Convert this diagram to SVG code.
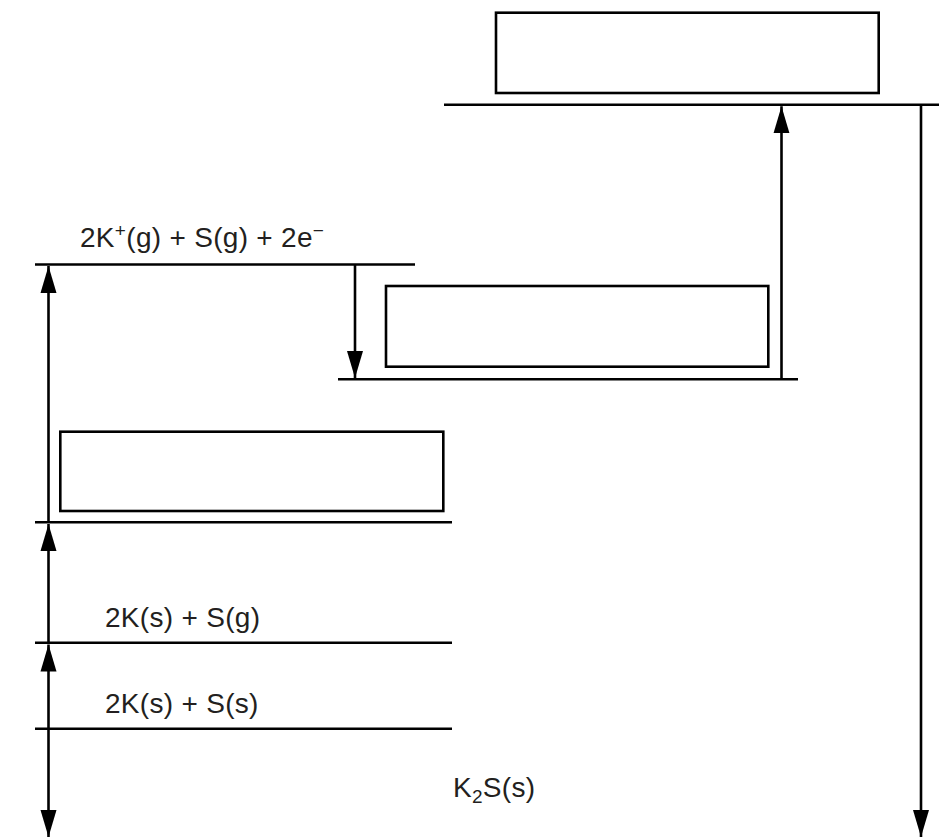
<svg xmlns="http://www.w3.org/2000/svg" width="939" height="838" viewBox="0 0 939 838">
<style>
.lvl{stroke:#000;stroke-width:2.6;fill:none}
.box{stroke:#000;stroke-width:2.6;fill:#fff}
.arr{stroke:#000;stroke-width:2.6;fill:none}
.t{font-family:"Liberation Sans",Arial,Helvetica,sans-serif;font-size:28px;fill:#231f20;letter-spacing:0.3px}
</style>
<defs>
<marker id="ah" markerUnits="userSpaceOnUse" markerWidth="28" markerHeight="17" viewBox="0 0 28 17" refX="27" refY="8.5" orient="auto">
<path d="M0,0.5 L27,8.5 L0,16.5 z" fill="#000"/>
</marker>
</defs>
<rect width="939" height="838" fill="#fff"/>
<g id="levels">
<g id="level-ions"><line class="lvl" x1="35" y1="264.5" x2="415" y2="264.5"/><text class="t" x="80" y="247">2K<tspan font-size="19" dy="-10">+</tspan><tspan dy="10">(g) + S(g) + 2e</tspan><tspan font-size="19" dy="-10">−</tspan></text></g>
<g id="level-mid"><line class="lvl" x1="338" y1="379.3" x2="798" y2="379.3"/></g>
<g id="level-top"><line class="lvl" x1="444" y1="104.7" x2="939" y2="104.7"/></g>
<g id="level-low"><line class="lvl" x1="35" y1="522.3" x2="452" y2="522.3"/></g>
<g id="level-ksg"><line class="lvl" x1="35" y1="642.7" x2="452" y2="642.7"/><text class="t" x="105" y="627">2K(s) + S(g)</text></g>
<g id="level-kss"><line class="lvl" x1="35" y1="728.7" x2="452" y2="728.7"/><text class="t" x="105" y="713">2K(s) + S(s)</text></g>
<g id="level-k2s"><text class="t" x="453" y="797">K<tspan font-size="19" dy="6">2</tspan><tspan dy="-6">S(s)</tspan></text></g>
</g>
<g id="box-top"><rect class="box" x="496" y="12.7" width="382.7" height="80.3"/></g>
<g id="box-mid"><rect class="box" x="386" y="286" width="382.3" height="80.7"/></g>
<g id="box-low"><rect class="box" x="60.3" y="431.7" width="383" height="79.3"/></g>
<g id="connectors">
<line class="arr" x1="48.5" y1="522.3" x2="48.5" y2="266" marker-end="url(#ah)"/>
<line class="arr" x1="48.5" y1="642.7" x2="48.5" y2="524" marker-end="url(#ah)"/>
<line class="arr" x1="48.5" y1="728.7" x2="48.5" y2="644.5" marker-end="url(#ah)"/>
<line class="arr" x1="48.5" y1="728.7" x2="48.5" y2="837" marker-end="url(#ah)"/>
<line class="arr" x1="355" y1="264.5" x2="355" y2="378" marker-end="url(#ah)"/>
<line class="arr" x1="781.5" y1="379.3" x2="781.5" y2="106.3" marker-end="url(#ah)"/>
<line class="arr" x1="921" y1="104.7" x2="921" y2="837" marker-end="url(#ah)"/>
</g>
</svg>
